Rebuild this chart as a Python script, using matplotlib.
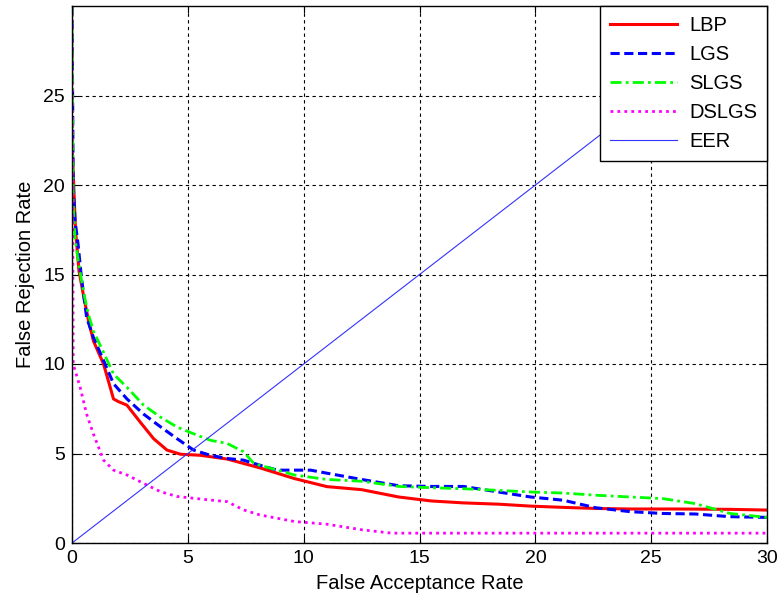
import matplotlib
matplotlib.use("Agg")
import matplotlib.pyplot as plt

plt.rcParams['font.family'] = ['Liberation Sans', 'DejaVu Sans']

# FAR / FRR curves
lbp_x = [0, 0.02, 0.15, 0.3, 0.5, 0.7, 0.92, 1.36, 1.79, 2.0, 2.37, 2.94, 3.52, 4.1, 4.68, 5.54, 6.7, 8.1,
         9.6, 11.0, 12.5, 14.1, 15.5, 16.9, 18.4, 19.8, 21.2, 22.6, 24.1, 26, 28.4, 30]
lbp_y = [22, 21.7, 17.5, 15.2, 13.8, 12.5, 11.3, 10.0, 8.05, 7.9, 7.7, 6.76, 5.83, 5.19, 4.96, 4.9, 4.69, 4.2,
         3.6, 3.15, 2.98, 2.57, 2.35, 2.24, 2.17, 2.06, 1.99, 1.93, 1.9, 1.9, 1.88, 1.84]

lgs_x = [0, 0.05, 0.13, 0.26, 0.4, 0.63, 0.92, 1.36, 1.79, 2.37, 3.09, 3.81, 4.53, 5.25, 5.97, 6.7, 7.4, 8.1,
         8.86, 9.6, 10.3, 11.0, 12.5, 14.1, 15.5, 16.9, 18.4, 19.8, 21.2, 22.6, 24.1, 25.5, 26.9, 28.4, 30]
lgs_y = [30, 20, 18, 16.7, 14.9, 12.6, 11.5, 10.2, 8.9, 8.05, 7.2, 6.5, 5.83, 5.19, 4.9, 4.72, 4.63, 4.35,
         4.07, 4.07, 4.07, 3.9, 3.55, 3.2, 3.16, 3.16, 2.85, 2.57, 2.39, 1.97, 1.75, 1.65, 1.62, 1.47, 1.43]

slgs_x = [0, 0.05, 0.13, 0.3, 0.5, 0.7, 0.92, 1.36, 1.79, 2.37, 3.09, 3.81, 4.53, 5.25, 5.97, 6.7, 7.4, 7.85,
          8.86, 9.6, 11.0, 12.5, 14.1, 15.5, 16.9, 18.4, 19.8, 21.2, 22.6, 24.1, 25.5, 26.9, 28.4, 30]
slgs_y = [30, 19, 17, 15.5, 14, 12.8, 11.85, 10.65, 9.44, 8.7, 7.7, 7.04, 6.48, 6.1, 5.74, 5.56, 5.1, 4.44,
          4.07, 3.8, 3.55, 3.45, 3.16, 3.09, 3.03, 2.94, 2.85, 2.79, 2.67, 2.57, 2.48, 2.2, 1.65, 1.43]

dslgs_x = [0, 0.05, 0.35, 0.63, 0.92, 1.36, 1.79, 2.37, 3.09, 3.81, 4.53, 5.25, 5.97, 6.7, 7.4, 8.1,
           9.6, 11.0, 12.5, 13.8, 30]
dslgs_y = [30, 10, 8.7, 7.2, 6.1, 4.63, 4.07, 3.8, 3.33, 2.87, 2.6, 2.5, 2.4, 2.31, 1.85, 1.57,
           1.2, 1.05, 0.74, 0.55, 0.55]

eer_x = [0, 30]
eer_y = [0, 30]

fig = plt.figure(figsize=(7.77, 6), dpi=100)
ax = fig.add_axes([0.0927, 0.095, 0.8945, 0.895])

ax.plot(lbp_x, lbp_y, color='#ff0000', lw=2.2, ls='-', label='LBP')
ax.plot(lgs_x, lgs_y, color='#0000ff', lw=2.2, ls=(0, (3, 1.5)), label='LGS')
ax.plot(slgs_x, slgs_y, color='#00ff00', lw=2.0, ls=(0, (4, 1.5, 1, 1.5)), label='SLGS')
ax.plot(dslgs_x, dslgs_y, color='#ff00ff', lw=2.0, ls=(0, (1, 1.5)), label='DSLGS')
ax.plot(eer_x, eer_y, color='#3333ff', lw=0.8, label='EER')

ax.set_xlim(0, 30)
ax.set_ylim(0, 30)
ax.set_xticks([0, 5, 10, 15, 20, 25, 30])
ax.set_yticks([0, 5, 10, 15, 20, 25])
ax.grid(True, color='black', ls=(0, (3, 3)), lw=0.8)
ax.tick_params(direction='in', top=True, right=True, labelsize=14, length=5, pad=5)
for s in ax.spines.values():
    s.set_linewidth(1.0)

ax.set_xlabel('False Acceptance Rate', fontsize=14.5, labelpad=5)
ax.set_ylabel('False Rejection Rate', fontsize=14.5, labelpad=6)

leg = ax.legend(loc='upper right', fontsize=14.5, handlelength=3.3, handletextpad=0.6, fancybox=False,
                framealpha=1, edgecolor='black', borderaxespad=0, labelspacing=0.5, borderpad=0.5)
leg.get_frame().set_linewidth(1.0)

plt.savefig('out.png')
